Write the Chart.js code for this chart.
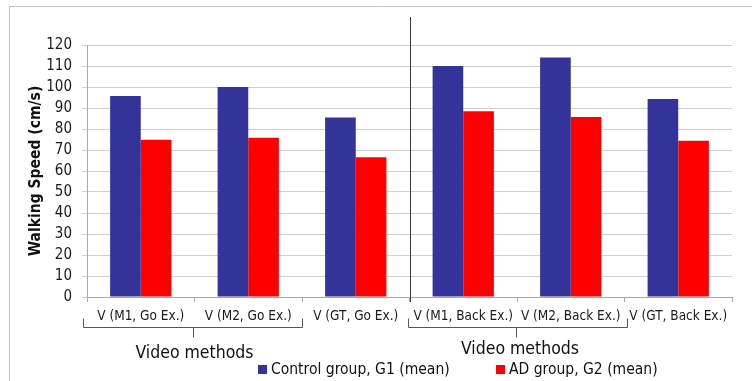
<!DOCTYPE html>
<html>
<head>
<meta charset="utf-8">
<script src="https://cdn.jsdelivr.net/npm/chart.js@4.4.1/dist/chart.umd.min.js"></script>
<style>
html, body { margin: 0; padding: 0; background: #fff; }
</style>
</head>
<body>
<canvas id="graphique" width="752" height="381"></canvas>
<script>
var categories = ['V (M1, Go Ex.)', 'V (M2, Go Ex.)', 'V (GT, Go Ex.)',
	'V (M1, Back Ex.)', 'V (M2, Back Ex.)', 'V (GT, Back Ex.)'];
var controlG1 = [95.7, 100, 85.5, 110, 114, 94.3];
var adG2 = [74.9, 75.8, 66.5, 88.5, 85.7, 74.4];
var seriesNames = ['Control group, G1 (mean)', 'AD group, G2 (mean)'];
var groupTitles = ['Video methods', 'Video methods'];
var yMin = 0, yMax = 120, yStep = 10;

var police = '"DejaVu Sans Condensed", "Liberation Sans", sans-serif';

// cadre, separateur, accolades, titres de groupe et legende
var decor = {
	id: 'decor',
	beforeDraw: function(chart) {
		var c = chart.ctx;
		c.save();
		c.fillStyle = '#fff';
		c.fillRect(0, 0, chart.width, chart.height);
		c.strokeStyle = '#c4c4c4';
		c.lineWidth = 1;
		c.beginPath();
		c.moveTo(9.5, chart.height);
		c.lineTo(9.5, 6.5);
		c.lineTo(chart.width, 6.5);
		c.stroke();
		c.restore();
	},
	afterDraw: function(chart) {
		var c = chart.ctx;
		var x = chart.scales.x;
		var bas = chart.chartArea.bottom;
		var w = (x.right - x.left) / categories.length;
		var b = function(i) { return x.left + i * w; };
		c.save();

		// separateur Go / Back
		c.strokeStyle = '#3a3a3a';
		c.lineWidth = 1;
		c.beginPath();
		c.moveTo(Math.round(b(3)) + 0.5, 17);
		c.lineTo(Math.round(b(3)) + 0.5, bas + 5);
		c.stroke();

		// accolades
		c.strokeStyle = '#555';
		var accolade = function(x0, x1, xm) {
			var y = bas + 30.5;
			c.beginPath();
			c.moveTo(x0, y - 9);
			c.lineTo(x0, y);
			c.lineTo(x1, y);
			c.lineTo(x1, y - 9);
			c.moveTo(xm, y);
			c.lineTo(xm, y + 10);
			c.stroke();
		};
		accolade(Math.round(b(0)) - 3.5, Math.round(b(2)) + 0.5, Math.round(b(1)) - 1.5);
		accolade(Math.round(b(3)) - 1.5, Math.round(b(5)) + 2.5, Math.round(b(4)) - 0.5);

		c.fillStyle = '#111';
		c.font = '17.5px ' + police;
		c.textAlign = 'center';
		c.textBaseline = 'middle';
		c.fillText(groupTitles[0], b(1), bas + 56);
		c.fillText(groupTitles[1], b(4) + 3, bas + 52);

		// legende
		var lx = [258, 496];
		c.font = '15.5px ' + police;
		c.textAlign = 'left';
		chart.data.datasets.forEach(function(ds, i) {
			c.fillStyle = ds.backgroundColor;
			c.fillRect(lx[i], 365, 9, 9);
			c.fillStyle = '#111';
			c.fillText(ds.label, lx[i] + 13, 370);
		});
		c.restore();
	}
};

var ctx = document.getElementById('graphique').getContext('2d');

var donnee = {
	labels: categories,
	datasets: [
		{ label: seriesNames[0], data: controlG1, backgroundColor: '#333399' },
		{ label: seriesNames[1], data: adG2, backgroundColor: '#ff0000' }
	]
};

var options = {
	responsive: false,
	animation: false,
	layout: { padding: { left: 10, top: 45, right: 20, bottom: 0 } },
	datasets: { bar: { categoryPercentage: 0.57, barPercentage: 1 } },
	plugins: { legend: { display: false }, tooltip: { enabled: false } },
	scales: {
		x: {
			afterFit: function(s) { s.height = 84; },
			grid: { drawOnChartArea: false, tickLength: 5, color: '#a8a8a8' },
			border: { color: '#a8a8a8' },
			ticks: { color: '#1a1a1a', font: { family: police, size: 13.5 }, padding: 6, maxRotation: 0, autoSkip: false }
		},
		y: {
			min: yMin,
			max: yMax,
			afterFit: function(s) { s.width = 77; },
			grid: { color: '#cfcfcf', tickLength: 5 },
			border: { color: '#a8a8a8' },
			ticks: { stepSize: yStep, color: '#1a1a1a', font: { family: police, size: 15 }, padding: 10 },
			title: {
				display: true,
				text: 'Walking Speed (cm/s)',
				color: '#111',
				font: { family: police, size: 15.5, weight: 'bold' },
				padding: { top: 17, bottom: 0 }
			}
		}
	}
};

var graph = new Chart(ctx, { type: 'bar', data: donnee, options: options, plugins: [decor] });
</script>
</body>
</html>
